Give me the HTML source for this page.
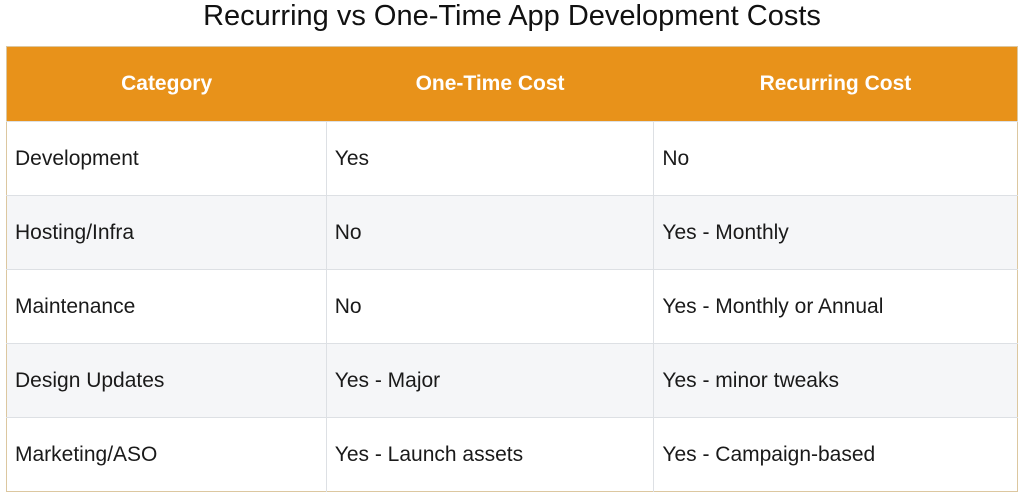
<!DOCTYPE html>
<html><head><meta charset="utf-8"><style>
body{margin:0;width:1024px;height:494px;background:#fff;font-family:"Liberation Sans",sans-serif;position:relative;overflow:hidden}
h1{position:absolute;top:0;left:0;width:1024px;margin:0;text-align:center;font-weight:normal;font-size:29px;line-height:32px;color:#111}
table{position:absolute;left:6px;top:46px;width:1012px;border-collapse:collapse;border:1.5px solid #dcc7a0}
th{background:#e8921a;color:#fff;font-weight:bold;font-size:21px;height:74px;padding:0;text-align:center}
td{font-size:21px;color:#1a1a1a;height:73px;padding:0 0 0 8px;border-top:1px solid #dde0e4;border-left:1px solid #dde0e4}
td:first-child{border-left:none}
tr:nth-child(even) td{background:#f5f6f8}
</style></head><body>
<h1>Recurring vs One-Time App Development Costs</h1>
<table>
<colgroup><col style="width:320px"><col style="width:328px"><col style="width:364px"></colgroup>
<thead><tr>
<th>Category</th>
<th>One-Time Cost</th>
<th>Recurring Cost</th></tr></thead>
<tbody>
<tr><td>Development</td><td>Yes</td><td>No</td></tr>
<tr><td>Hosting/Infra</td><td>No</td><td>Yes - Monthly</td></tr>
<tr><td>Maintenance</td><td>No</td><td>Yes - Monthly or Annual</td></tr>
<tr><td>Design Updates</td><td>Yes - Major</td><td>Yes - minor tweaks</td></tr>
<tr><td>Marketing/ASO</td><td>Yes - Launch assets</td><td>Yes - Campaign-based</td></tr>
</tbody></table>
</body></html>
